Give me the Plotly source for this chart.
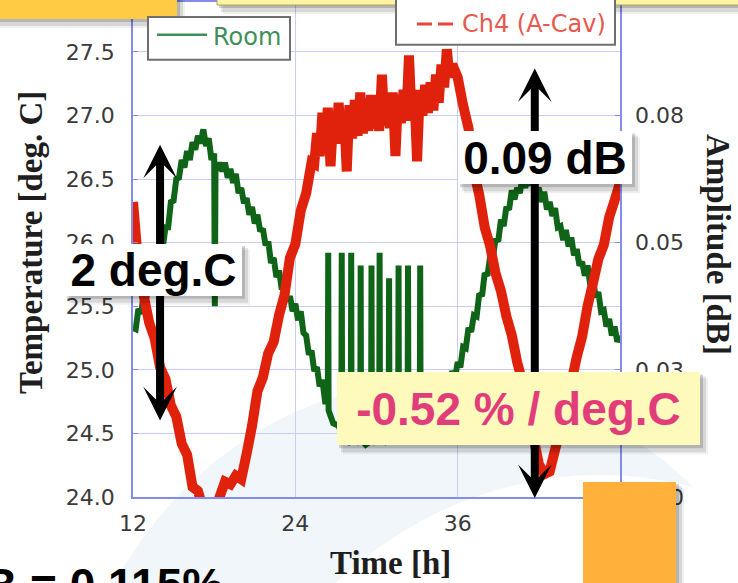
import plotly.graph_objects as go

# ---------------- data ----------------
# Room temperature [deg. C] against time [h]
room_time = [12.0, 12.2, 12.4, 12.6, 12.8, 13.0, 13.2, 13.4, 13.6, 13.8, 14.0, 14.2, 14.4, 14.6, 14.8,
             15.0, 15.2, 15.4, 15.6, 15.8, 16.0, 16.2, 16.4, 16.6, 16.8, 17.0, 17.2, 17.4, 17.6, 17.8,
             18.0, 18.05, 18.1, 18.2, 18.4, 18.6, 18.8, 19.0, 19.2, 19.4, 19.6, 19.8, 20.0, 20.2, 20.4,
             20.6, 20.8, 21.0, 21.2, 21.4, 21.6, 21.8, 22.0, 22.2, 22.4, 22.6, 22.8, 23.0, 23.2, 23.4,
             23.6, 23.8, 24.0, 24.2, 24.4, 24.6, 24.8, 25.0, 25.2, 25.4, 25.6, 25.8, 26.0, 26.2, 26.4,
             26.43, 26.46, 26.8, 27.2, 27.4, 27.43, 27.46, 27.8, 28.1, 28.13, 28.16, 28.5, 28.8, 28.83, 28.86,
             29.2, 29.6, 29.63, 29.66, 30.0, 30.2, 30.23, 30.26, 30.6, 30.9, 30.93, 30.96, 31.3, 31.6, 31.63,
             31.66, 32.0, 32.3, 32.33, 32.36, 32.8, 33.2, 33.23, 33.26,
             33.6, 33.8, 34.0, 34.2, 34.4, 34.6, 34.8, 35.0, 35.2, 35.4, 35.6, 35.8, 36.0, 36.2, 36.4,
             36.6, 36.8, 37.0, 37.2, 37.4, 37.6, 37.8, 38.0, 38.2, 38.4, 38.6, 38.8, 39.0, 39.2, 39.4,
             39.6, 39.8, 40.0, 40.2, 40.4, 40.6, 40.8, 41.0, 41.2, 41.4, 41.6, 41.8, 42.0, 42.2, 42.4,
             42.6, 42.8, 43.0, 43.2, 43.4, 43.6, 43.8, 44.0, 44.2, 44.4, 44.6, 44.8, 45.0, 45.2, 45.4,
             45.6, 45.8, 46.0, 46.2, 46.4, 46.6, 46.8, 47.0, 47.2, 47.4, 47.6, 47.8, 48.0]
room_temp = [25.33, 25.32, 25.48, 25.44, 25.60, 25.57, 25.76, 25.73, 25.88, 25.86, 25.99, 25.96, 26.12, 26.12, 26.32,
             26.33, 26.50, 26.51, 26.65, 26.59, 26.72, 26.65, 26.79, 26.73, 26.84, 26.78, 26.89, 26.76, 26.82, 26.65,
             26.70, 25.50, 26.60, 26.57, 26.63, 26.56, 26.63, 26.51, 26.58, 26.47, 26.54, 26.39, 26.43, 26.31, 26.35,
             26.22, 26.28, 26.15, 26.22, 26.09, 26.11, 25.98, 26.01, 25.84, 25.88, 25.73, 25.78, 25.63, 25.67, 25.54,
             25.58, 25.46, 25.52, 25.39, 25.46, 25.29, 25.27, 25.12, 25.15, 24.99, 25.02, 24.87, 24.92, 24.75, 24.75,
             25.92, 24.68, 24.58, 24.56, 24.50, 25.92, 24.52, 24.46, 24.48, 25.92, 24.44, 24.46, 24.42, 25.82, 24.45,
             24.41, 24.44, 25.82, 24.42, 24.46, 24.43, 25.92, 24.47, 24.44, 24.50, 25.72, 24.46, 24.52, 24.50, 25.82,
             24.54, 24.53, 24.60, 25.82, 24.56, 24.64, 24.64, 25.82, 24.68,
             24.77, 24.71, 24.81, 24.75, 24.88, 24.81, 24.94, 24.87, 24.97, 24.90, 24.99, 24.93, 25.06, 25.02, 25.18,
             25.17, 25.33, 25.30, 25.43, 25.42, 25.60, 25.58, 25.76, 25.74, 25.89, 25.88, 26.03, 26.01, 26.18, 26.13,
             26.28, 26.26, 26.41, 26.34, 26.43, 26.39, 26.52, 26.43, 26.53, 26.45, 26.53, 26.40, 26.43, 26.32, 26.40,
             26.26, 26.32, 26.21, 26.27, 26.12, 26.13, 26.02, 26.10, 25.97, 26.04, 25.90, 25.95, 25.82, 25.85, 25.74,
             25.82, 25.67, 25.72, 25.57, 25.61, 25.46, 25.47, 25.34, 25.40, 25.27, 25.34, 25.22, 25.27]

# Ch4 (A-Cav) amplitude [dB] against time [h]
cav_time = [12.0, 12.4, 12.8, 13.2, 13.6, 14.0, 14.4, 14.8, 15.2, 15.6, 16.0, 16.4, 16.8, 17.2, 17.6,
            18.0, 18.4, 18.8, 19.2, 19.6, 20.0, 20.4, 20.8, 21.2, 21.6, 22.0, 22.4, 22.8, 23.2, 23.6,
            24.0, 24.4, 24.8, 25.2,
            25.4, 25.6, 25.8, 26.0, 26.2, 26.4, 26.6, 26.8, 27.0, 27.2, 27.4, 27.6, 27.8, 28.0, 28.2,
            28.4, 28.6, 28.8, 29.0, 29.2, 29.4, 29.6, 29.8, 30.0, 30.2, 30.4, 30.6, 30.8, 31.0, 31.2,
            31.4, 31.6, 31.8, 32.0, 32.2, 32.4, 32.6, 32.8, 33.0, 33.2, 33.4, 33.6, 33.8, 34.0, 34.2,
            34.4, 34.6, 34.8, 35.0, 35.2, 35.4, 35.6,
            36.0, 36.4, 36.8, 37.2, 37.6, 38.0, 38.4, 38.8, 39.2, 39.6, 40.0, 40.4, 40.8, 41.2, 41.6,
            42.0, 42.4, 42.8, 43.2, 43.6, 44.0, 44.4, 44.8, 45.2, 45.6, 46.0, 46.4, 46.8, 47.2, 47.6, 48.0]
cav_amp = [0.0580, 0.0455, 0.0395, 0.0342, 0.0312, 0.0255, 0.0232, 0.0180, 0.0158, 0.0105, 0.0083, 0.0020, 0.0012, -0.0025, -0.0050,
           -0.0035, 0.0000, 0.0030, 0.0025, 0.0042, 0.0035, 0.0085, 0.0140, 0.0208, 0.0235, 0.0283, 0.0305, 0.0358, 0.0397, 0.0470,
           0.0497, 0.0563, 0.0597, 0.0658,
           0.0655, 0.0715, 0.0670, 0.0755, 0.0685, 0.0765, 0.0650, 0.0745, 0.0695, 0.0775, 0.0700, 0.0760, 0.0640, 0.0770, 0.0705,
           0.0780, 0.0710, 0.0795, 0.0715, 0.0770, 0.0720, 0.0790, 0.0725, 0.0780, 0.0720, 0.0830, 0.0730, 0.0785, 0.0725, 0.0795,
           0.0670, 0.0790, 0.0735, 0.0800, 0.0740, 0.0868, 0.0745, 0.0795, 0.0660, 0.0800, 0.0750, 0.0810, 0.0755, 0.0815, 0.0760,
           0.0830, 0.0775, 0.0850, 0.0805, 0.0880, 0.0825, 0.0850,
           0.0825, 0.0770, 0.0725, 0.0640, 0.0593, 0.0530, 0.0493, 0.0440, 0.0405, 0.0355, 0.0318, 0.0265, 0.0225, 0.0158, 0.0118,
           0.0065, 0.0045, 0.0050, 0.0093, 0.0133, 0.0193, 0.0225, 0.0275, 0.0315, 0.0375, 0.0420, 0.0468, 0.0495, 0.0550, 0.0583, 0.0618]

time_ticks = [12, 24, 36, 48]
temp_ticks = [24.0, 24.5, 25.0, 25.5, 26.0, 26.5, 27.0, 27.5]
amp_ticks = [0.0, 0.025, 0.05, 0.075]
amp_tick_text = ["0.00", "0.03", "0.05", "0.08"]

TIME_RANGE = [12, 48]
TEMP_RANGE = [24.0, 27.892]
AMP_RANGE = [0.0, 0.0973]

# ---------------- page geometry ----------------
W, H = 738, 583
PL, PR, PT, PB = 133, 620, 0, 497   # plot area edges in page pixels


def fx(p):
    return (p - PL) / (PR - PL)


def fy(p):
    return (PB - p) / (PB - PT)


def rect(x0, y0, x1, y1, fill, line_color=None, line_width=0, layer="above"):
    return dict(type="rect", xref="paper", yref="paper", x0=fx(x0), x1=fx(x1), y0=fy(y1), y1=fy(y0),
                fillcolor=fill, line=dict(width=line_width, color=line_color or fill), layer=layer)


def shadow(x0, y0, x1, y1):
    return [rect(x0 + 2, y0 + 2, x1 + 3, y1 + 3, "rgba(0,0,0,0.16)"),
            rect(x0 + 4, y0 + 4, x1 + 6, y1 + 7, "rgba(0,0,0,0.10)"),
            rect(x0 + 6, y0 + 6, x1 + 8, y1 + 9, "rgba(0,0,0,0.06)")]


AX_BLUE = "#838cea"
GRID = "#c9ccf4"
TICK_FONT = dict(family="DejaVu Sans", size=22, color="#3a3a3a")
TITLE_FONT = dict(family="Liberation Serif", size=33, color="#1e1e1e", weight="bold")
BOX_FONT = dict(family="Liberation Sans", size=46, color="black", weight="bold")

fig = go.Figure()

fig.add_trace(go.Scatter(x=room_time, y=room_temp, name="Room", mode="lines",
                         line=dict(color="#0f6418", width=6, simplify=False), yaxis="y"))
fig.add_trace(go.Scatter(x=cav_time, y=cav_amp, name="Ch4 (A-Cav)", mode="lines",
                         line=dict(color="#e0220c", width=10, simplify=False), yaxis="y2"))

shapes = []
# faint slide background swoosh
shapes.append(dict(type="circle", xref="paper", yref="paper", layer="below",
                   x0=fx(60), x1=fx(820), y0=fy(1220), y1=fy(380),
                   fillcolor="#f0f6f9", line=dict(width=0)))
shapes.append(dict(type="circle", xref="paper", yref="paper", layer="below",
                   x0=fx(180), x1=fx(1020), y0=fy(1445), y1=fy(475),
                   fillcolor="white", line=dict(width=0)))

# boxes along the top edge
shapes += shadow(-10, -10, 177, 17)
shapes.append(rect(-10, -10, 177, 17, "#ffcb45"))
shapes += shadow(217, -10, 760, 3)
shapes.append(rect(217, -10, 760, 3, "#fdf5a6", "#b5a451", 1))

# legend boxes
shapes.append(rect(148, 15, 290, 58, "white", "#6f6f6f", 2))
shapes.append(dict(type="line", xref="paper", yref="paper", x0=fx(157), x1=fx(207), y0=fy(33), y1=fy(33),
                   line=dict(color="#3f8f5b", width=2.5), layer="above"))
shapes.append(rect(396, -10, 615, 43, "white", "#6f6f6f", 2))
shapes.append(dict(type="line", xref="paper", yref="paper", x0=fx(417), x1=fx(453), y0=fy(22), y1=fy(22),
                   line=dict(color="#e8453a", width=3, dash="15px,6px"), layer="above"))

# label box shadows (boxes themselves are annotations so they cover the arrows)
shapes += shadow(65, 243, 242, 295)
shapes += shadow(458, 130, 632, 183)
shapes += shadow(337, 372, 700, 445)

# orange block at the lower right
shapes += shadow(583, 482, 676, 600)
shapes.append(rect(583, 482, 676, 600, "#ffb13c"))

annotations = []
# span arrows
arrow_common = dict(xref="x", yref="y", axref="x", ayref="y", text="", showarrow=True,
                    arrowhead=3, startarrowhead=3, arrowside="end+start", arrowwidth=8,
                    arrowsize=0.7, startarrowsize=0.7, arrowcolor="black")
annotations.append(dict(x=14.0, y=26.77, ax=14.0, ay=24.59, **arrow_common))
annotations.append(dict(x=41.7, y=27.37, ax=41.7, ay=23.98, **arrow_common))


def box(text, x0, y0, x1, y1, bg, color):
    f = dict(BOX_FONT)
    f["color"] = color
    return dict(xref="paper", yref="paper", x=fx((x0 + x1) / 2), y=fy((y0 + y1) / 2),
                xanchor="center", yanchor="middle", text=text, showarrow=False,
                width=x1 - x0, height=y1 - y0, bgcolor=bg, borderpad=0, borderwidth=0,
                align="center", valign="middle", font=f)


annotations.append(box("2 deg.C", 65, 243, 242, 295, "white", "black"))
annotations.append(box("0.09 dB", 458, 130, 632, 183, "white", "black"))
annotations.append(box("-0.52 % / deg.C", 337, 372, 700, 445, "#fefabb", "#e23d7b"))

# legend labels
annotations.append(dict(xref="paper", yref="paper", x=fx(211), y=fy(35), xanchor="left", yanchor="middle",
                        text="Room", showarrow=False,
                        font=dict(family="DejaVu Sans", size=24, color="#3f8f5b")))
annotations.append(dict(xref="paper", yref="paper", x=fx(460), y=fy(22), xanchor="left", yanchor="middle",
                        text="Ch4 (A-Cav)", showarrow=False,
                        font=dict(family="DejaVu Sans", size=24, color="#e8584d")))

# axis titles
title_common = dict(xref="paper", yref="paper", xanchor="center", yanchor="middle", showarrow=False,
                    font=TITLE_FONT)
annotations.append(dict(x=fx(31), y=fy(242), text="Temperature [deg. C]", textangle=-90, **title_common))
annotations.append(dict(x=fx(718), y=fy(243), text="Amplitude [dB]", textangle=90, **title_common))
annotations.append(dict(x=fx(390), y=fy(563), text="Time [h]", **title_common))

# slide text running off the bottom edge
annotations.append(dict(xref="paper", yref="paper", x=fx(-18), y=fy(585), xanchor="left", yanchor="middle",
                        text="B = 0.115%", showarrow=False, font=BOX_FONT))

fig.update_layout(
    width=W, height=H, autosize=False,
    margin=dict(l=PL, r=W - PR, t=PT, b=H - PB, pad=0),
    paper_bgcolor="white", plot_bgcolor="rgba(0,0,0,0)",
    showlegend=False,
    xaxis=dict(range=TIME_RANGE, tickvals=time_ticks, showgrid=True, gridcolor=GRID, gridwidth=1,
               showline=True, linecolor=AX_BLUE, linewidth=1.5, mirror=True, zeroline=False,
               ticks="", tickfont=TICK_FONT, ticklabelstandoff=6),
    yaxis=dict(range=TEMP_RANGE, tickvals=temp_ticks, tickformat=".1f", showgrid=True, gridcolor=GRID,
               gridwidth=1, showline=True, linecolor=AX_BLUE, linewidth=1.5, mirror=True, zeroline=False,
               ticks="inside", ticklen=5, tickcolor=AX_BLUE, tickfont=TICK_FONT, ticklabelstandoff=12),
    yaxis2=dict(range=AMP_RANGE, overlaying="y", side="right", tickvals=amp_ticks, ticktext=amp_tick_text,
                showgrid=False, zeroline=False, showline=False, ticks="inside", ticklen=5, tickcolor=AX_BLUE,
                tickfont=TICK_FONT, ticklabelstandoff=14),
    shapes=shapes,
    annotations=annotations,
)

fig.write_html("out.html")
